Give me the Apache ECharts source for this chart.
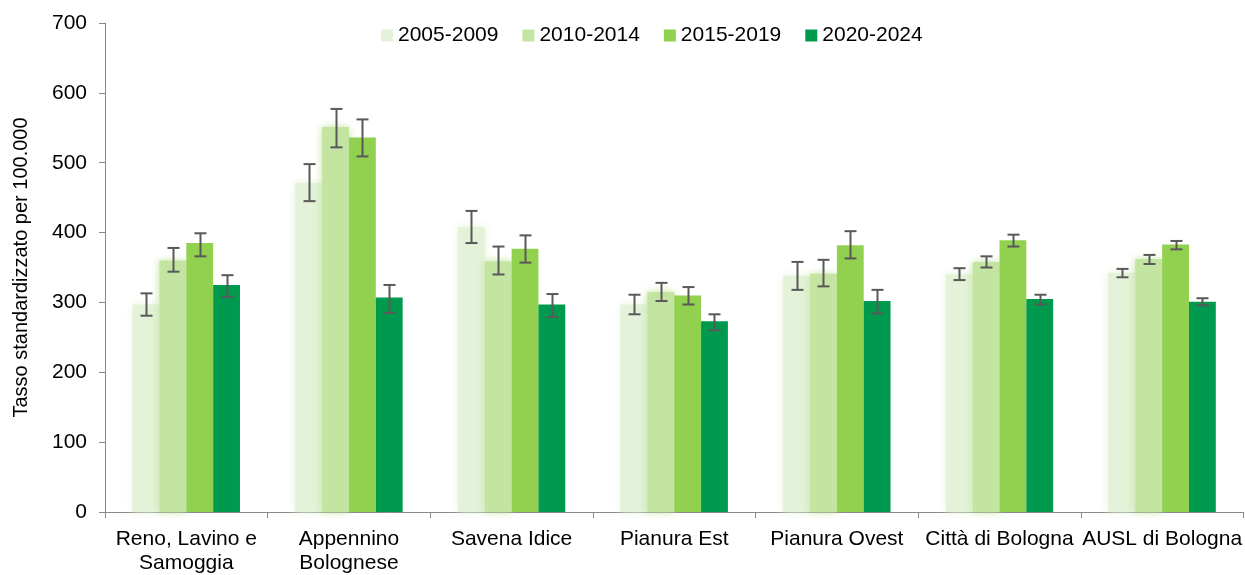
<!DOCTYPE html>
<html>
<head>
<meta charset="utf-8">
<script src="https://cdn.jsdelivr.net/npm/echarts@6/dist/echarts.min.js"></script>
<style>
html,body{margin:0;padding:0;background:#fff;overflow:hidden;}
#chart{width:1245px;height:575px;}
</style>
</head>
<body>
<div id="chart"></div>
<script>
var categories = ["Reno, Lavino e\nSamoggia", "Appennino\nBolognese", "Savena Idice", "Pianura Est", "Pianura Ovest", "Città di Bologna", "AUSL di Bologna"];
var seriesNames = ["2005-2009", "2010-2014", "2015-2019", "2020-2024"];
var yTicks = [0, 100, 200, 300, 400, 500, 600, 700];

var v2005 = [297, 471, 408, 297, 338, 340, 342];
var v2010 = [360, 551, 359, 315, 341, 358, 362];
var v2015 = [385, 536, 377, 310, 382, 389, 383];
var v2020 = [325, 307, 297, 273, 302, 305, 301];

var lo2005 = [281, 445, 385, 283, 318, 332, 336];
var hi2005 = [313, 498, 431, 311, 358, 349, 348];
var lo2010 = [344, 522, 340, 302, 323, 350, 355];
var hi2010 = [378, 577, 380, 328, 361, 366, 368];
var lo2015 = [366, 509, 357, 297, 363, 380, 376];
var hi2015 = [399, 562, 396, 322, 402, 397, 388];
var lo2020 = [308, 285, 279, 260, 284, 297, 296];
var hi2020 = [339, 325, 312, 283, 318, 311, 306];

var colors = ["#e3f2d8", "#c4e4a2", "#92d050", "#009a4f"];
var values = [v2005, v2010, v2015, v2020];
var lows = [lo2005, lo2010, lo2015, lo2020];
var highs = [hi2005, hi2010, hi2015, hi2020];

var CAT_GAP = 0.34;
var NSER = 4;
var FONT = 'Liberation Sans, Arial, sans-serif';

var errData = [];
for (var s = 0; s < NSER; s++) {
  for (var c = 0; c < categories.length; c++) {
    errData.push([c, s, lows[s][c], highs[s][c]]);
  }
}

var series = [];
for (var i = 0; i < NSER; i++) {
  var st = { color: colors[i] };
  if (i < 2) { st.shadowBlur = 8; st.shadowColor = colors[i]; }
  series.push({
    name: seriesNames[i],
    type: 'bar',
    data: values[i],
    barGap: '0%',
    barCategoryGap: (CAT_GAP * 100) + '%',
    itemStyle: st,
    emphasis: { disabled: true }
  });
}
series.push({
  type: 'custom',
  name: 'err',
  data: errData,
  z: 10,
  silent: true,
  encode: { x: 0, y: [2, 3] },
  renderItem: function (params, api) {
    var c = api.value(0), s = api.value(1);
    var band = api.size([1, 0])[0];
    var bw = band * (1 - CAT_GAP) / NSER;
    var center = api.coord([c, 0])[0];
    var x = Math.round(center - (NSER / 2) * bw + (s + 0.5) * bw) + 0.5;
    var yl = api.coord([c, api.value(2)])[1];
    var yh = api.coord([c, api.value(3)])[1];
    var cap = 6;
    var style = { stroke: '#595959', lineWidth: 2, fill: null };
    return {
      type: 'group',
      children: [
        { type: 'line', shape: { x1: x, y1: yl, x2: x, y2: yh }, style: style },
        { type: 'line', shape: { x1: x - cap, y1: yl, x2: x + cap, y2: yl }, style: style },
        { type: 'line', shape: { x1: x - cap, y1: yh, x2: x + cap, y2: yh }, style: style }
      ]
    };
  }
});

var chart = echarts.init(document.getElementById('chart'), null, { renderer: 'canvas' });
chart.setOption({
  animation: false,
  backgroundColor: '#fff',
  textStyle: { fontFamily: FONT },
  legend: {
    data: seriesNames,
    left: 376,
    top: 20,
    icon: 'rect',
    itemWidth: 12,
    itemHeight: 12,
    itemGap: 24,
    textStyle: { fontSize: 21, color: '#000', fontFamily: FONT }
  },
  grid: { left: 105, width: 1140, top: 23, height: 497, containLabel: false },
  xAxis: {
    type: 'category',
    data: categories,
    axisLine: { lineStyle: { color: '#898989', width: 1 } },
    axisTick: { show: true, length: 6, lineStyle: { color: '#898989' } },
    axisLabel: { fontSize: 21, color: '#000', margin: 15, lineHeight: 24, interval: 0, fontFamily: FONT },
    splitLine: { show: false }
  },
  yAxis: {
    type: 'value',
    min: yTicks[0],
    max: yTicks[yTicks.length - 1],
    interval: 100,
    name: 'Tasso standardizzato per 100.000',
    nameLocation: 'middle',
    nameGap: 74,
    nameTextStyle: { fontSize: 20, color: '#000', fontFamily: FONT },
    axisLine: { show: true, lineStyle: { color: '#898989', width: 1 } },
    axisTick: { show: true, length: 6, lineStyle: { color: '#898989' } },
    axisLabel: { fontSize: 21, color: '#000', margin: 18, fontFamily: FONT },
    splitLine: { show: false }
  },
  series: series
});
</script>
</body>
</html>
